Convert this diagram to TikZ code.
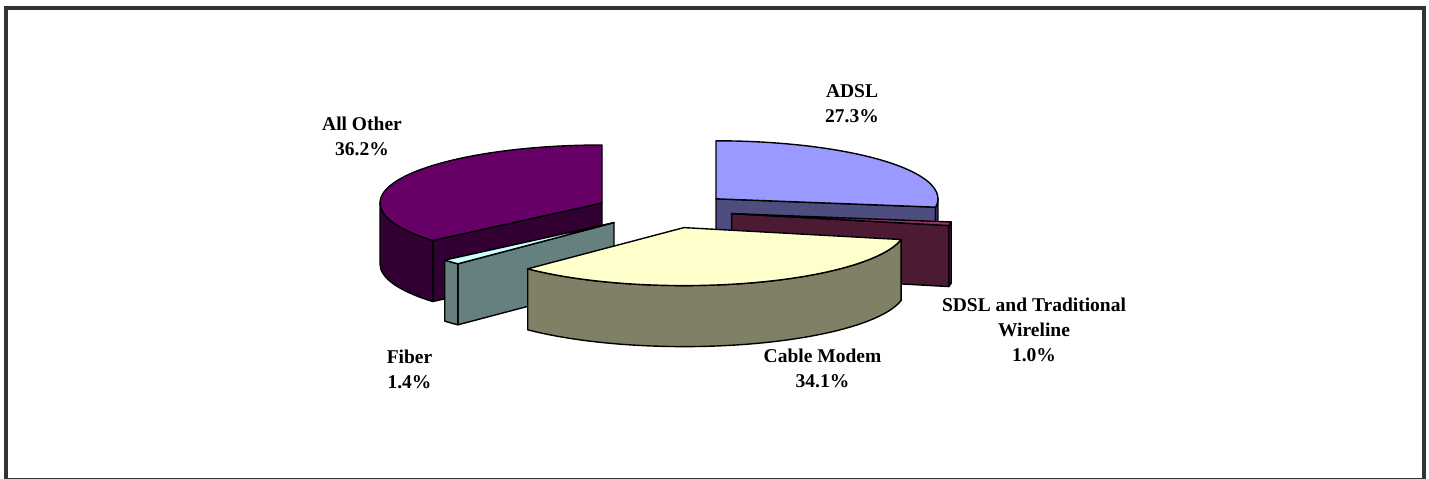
\documentclass[tikz,border=0pt]{standalone}
\usepackage{fontspec}
\setmainfont{Liberation Serif}
\usetikzlibrary{calc}
\definecolor{frameC}{HTML}{333333}
\definecolor{adslT}{HTML}{9999FF}
\definecolor{adslS}{HTML}{4D4D80}
\definecolor{sdslT}{HTML}{993366}
\definecolor{sdslS}{HTML}{4D1A33}
\definecolor{cabT}{HTML}{FFFFCC}
\definecolor{cabS}{HTML}{808066}
\definecolor{fibT}{HTML}{CCFFFF}
\definecolor{fibS}{HTML}{668080}
\definecolor{othT}{HTML}{660066}
\definecolor{othS}{HTML}{330033}
\tikzset{
  edge/.style={draw=black, line width=1.4pt, line join=round},
  lbl/.style={align=center, inner sep=0pt, anchor=base, font=\bfseries\fontsize{19.5}{25}\selectfont}
}
\newcommand\pieTop[4]{\filldraw[edge, fill=#4] (#1) -- ($(#1)+(#2:222 and 58)$) arc[start angle=#2, end angle=#3, x radius=222, y radius=58] -- cycle;}
\newcommand\pieRad[3]{\filldraw[edge, fill=#3] (#1) -- ($(#1)+(#2:222 and 58)$) -- ++(0,-61) -- ($(#1)+(0,-61)$) -- cycle;}
\newcommand\pieOut[4]{\filldraw[edge, fill=#4] ($(#1)+(#2:222 and 58)$) arc[start angle=#2, end angle=#3, x radius=222, y radius=58] -- ++(0,-61) arc[start angle=#3, end angle=#2, x radius=222, y radius=58] -- cycle;}
\begin{document}
\begin{tikzpicture}[x=1pt,y=1pt]
\useasboundingbox (0,0) rectangle (1429,-479);
\clip (0,0) rectangle (1429,-479);
\fill[white] (0,0) rectangle (1429,-479);
\draw[frameC, line width=4pt] (6,-8) rectangle (1424,-480);
\coordinate (cA) at (716.0,-198.8);
\coordinate (cS) at (731.6,-213.6);
\coordinate (cC) at (683.9,-227.6);
\coordinate (cF) at (614.0,-222.6);
\coordinate (cO) at (602.0,-203.0);
% ADSL
\pieRad{cA}{-8.3}{adslS}
\pieOut{cA}{-8.3}{0}{adslS}
\pieTop{cA}{-8.3}{90}{adslT}
% All Other
\pieRad{cO}{220.3}{othS}
\pieOut{cO}{180}{220.3}{othS}
\pieTop{cO}{90}{220.3}{othT}
% SDSL
\pieRad{cS}{-11.9}{sdslS}
\pieOut{cS}{-11.9}{-8.3}{sdslS}
\pieTop{cS}{-11.9}{-8.3}{sdslT}
% Fiber
\pieRad{cF}{-134.7}{fibS}
\pieOut{cF}{-139.7}{-134.7}{fibS}
\pieTop{cF}{-139.7}{-134.7}{fibT}
% Cable Modem
\pieOut{cC}{-134.7}{-11.9}{cabS}
\pieTop{cC}{-134.7}{-11.9}{cabT}
% labels (anchor = baseline of last line)
\node[lbl] (lA) at (852,-122) {ADSL\\27.3\%};
\node[lbl] (lO) at (362,-155) {All Other\\36.2\%};
\node[lbl] (lF) at (409.5,-388) {Fiber\\1.4\%};
\node[lbl] (lC) at (822.5,-387) {Cable Modem\\34.1\%};
\node[lbl] (lS) at (1034,-361) {SDSL and Traditional\\Wireline\\1.0\%};
\end{tikzpicture}
\end{document}
